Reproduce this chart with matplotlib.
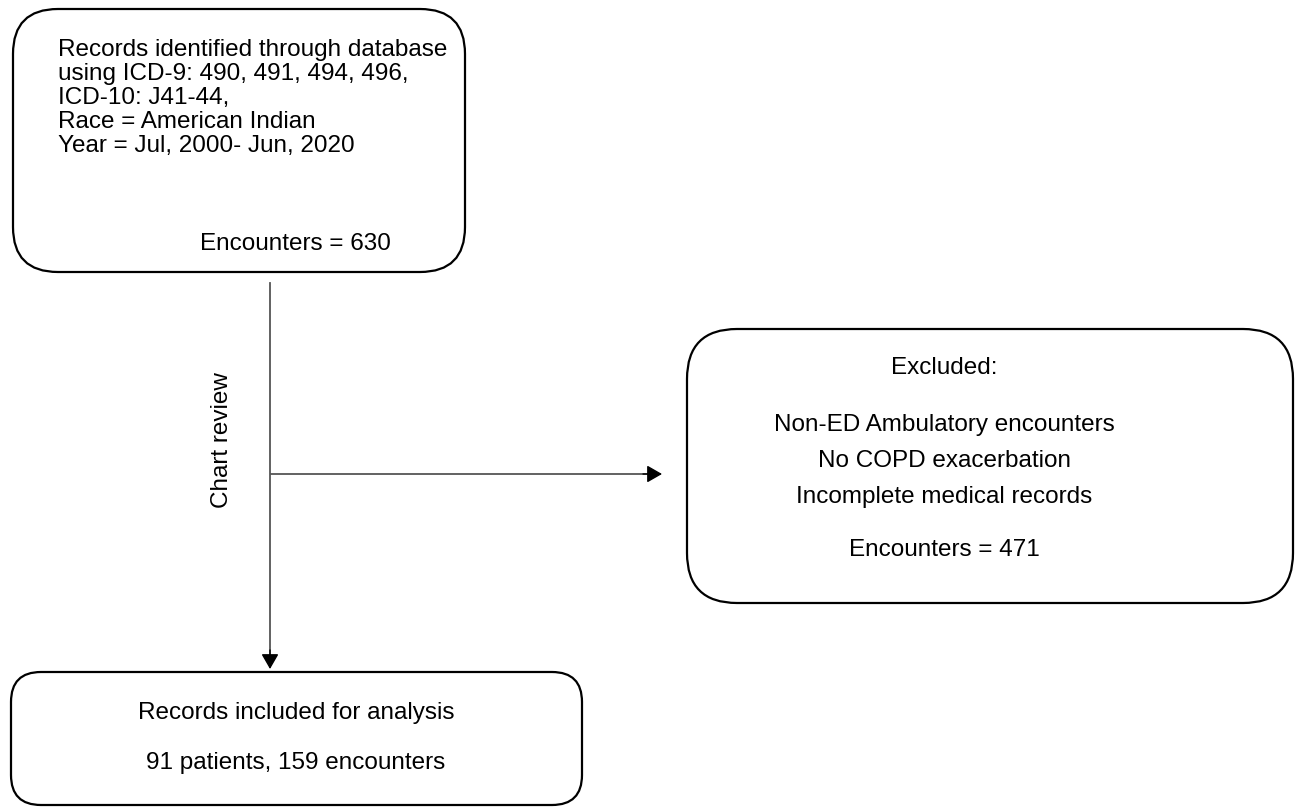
import matplotlib.pyplot as plt
from matplotlib.patches import FancyBboxPatch

plt.rcParams['font.family'] = ['Liberation Sans', 'DejaVu Sans']

W, H = 1295, 807

# box text
top_lines = ['Records identified through database',
             'using ICD-9: 490, 491, 494, 496,',
             'ICD-10: J41-44,',
             'Race = American Indian',
             'Year = Jul, 2000- Jun, 2020']
top_count = 'Encounters = 630'
excl_title = 'Excluded:'
excl_lines = ['Non-ED Ambulatory encounters',
              'No COPD exacerbation',
              'Incomplete medical records']
excl_count = 'Encounters = 471'
incl_title = 'Records included for analysis'
incl_count = '91 patients, 159 encounters'
side_label = 'Chart review'

fig = plt.figure(figsize=(W / 100, H / 100), dpi=100)
ax = fig.add_axes([0, 0, 1, 1])
ax.set_xlim(0, W)
ax.set_ylim(H, 0)
ax.axis('off')

FS = 17.5


def box(x0, y0, x1, y1, r):
    p = FancyBboxPatch((x0, y0), x1 - x0, y1 - y0,
                       boxstyle='round,pad=0,rounding_size=%d' % r,
                       fc='white', ec='black', lw=1.6)
    ax.add_patch(p)


box(13, 9, 465, 272, 45)
box(687, 329, 1293, 603, 50)
box(11, 672, 582, 805, 30)

for i, s in enumerate(top_lines):
    ax.text(58, 50 + 24 * i, s, fontsize=FS, va='center', ha='left')
ax.text(295, 244, top_count, fontsize=FS, va='center', ha='center')

ax.text(944, 368, excl_title, fontsize=FS, va='center', ha='center')
for i, s in enumerate(excl_lines):
    ax.text(944, 425 + 36 * i, s, fontsize=FS, va='center', ha='center')
ax.text(944, 550, excl_count, fontsize=FS, va='center', ha='center')

ax.text(296, 713, incl_title, fontsize=FS, va='center', ha='center')
ax.text(296, 763, incl_count, fontsize=FS, va='center', ha='center')

ax.text(222, 440, side_label, fontsize=FS, va='center', ha='center',
        rotation=90)

# connectors: grey lines, black heads
ax.plot([270, 270], [283, 660], color='#555555', lw=1.3)
ax.plot([271, 652], [474, 474], color='#555555', lw=1.3)
aprops = dict(arrowstyle='-|>,head_length=0.4,head_width=0.23',
              mutation_scale=23, color='black', lw=1.0,
              shrinkA=0, shrinkB=0)
ax.annotate('', xy=(270, 669), xytext=(270, 650), arrowprops=aprops)
ax.annotate('', xy=(662, 474), xytext=(643, 474), arrowprops=aprops)

fig.savefig('out.png', dpi=100, facecolor='white')
